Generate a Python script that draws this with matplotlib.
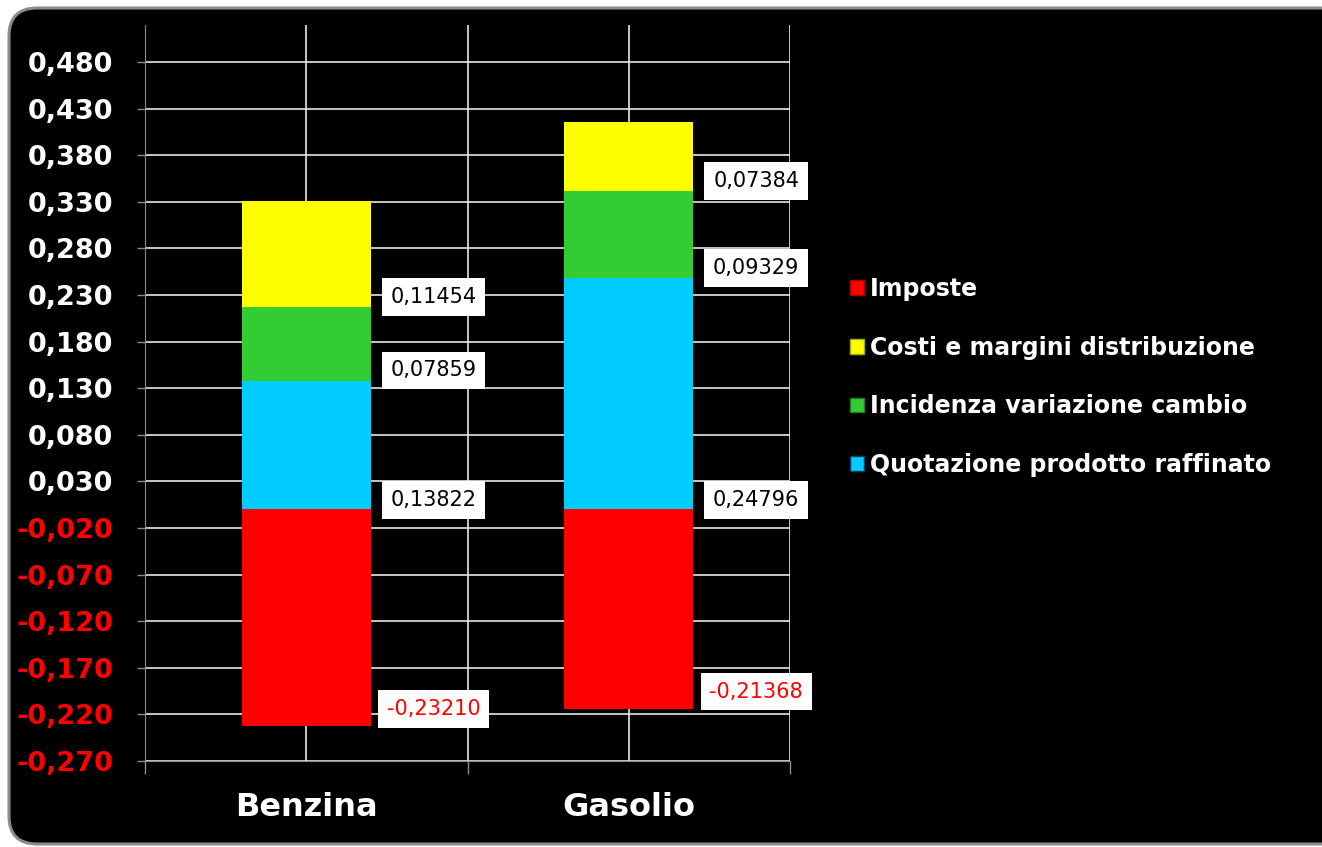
import matplotlib
matplotlib.use('Agg')
import matplotlib.pyplot as plt
from matplotlib.patches import FancyBboxPatch, Patch
from matplotlib.transforms import IdentityTransform
import numpy as np

categories = ['Benzina', 'Gasolio']
imposte = [-0.23210, -0.21368]
quotazione = [0.13822, 0.24796]
cambio = [0.07859, 0.09329]
costi = [0.11454, 0.07384]
ytick_values = [-0.270, -0.220, -0.170, -0.120, -0.070, -0.020, 0.030, 0.080,
                0.130, 0.180, 0.230, 0.280, 0.330, 0.380, 0.430, 0.480]
legend_labels = ['Imposte', 'Costi e margini distribuzione',
                 'Incidenza variazione cambio', 'Quotazione prodotto raffinato']

C_RED = '#FF0000'
C_YEL = '#FFFF00'
C_GRN = '#33CC33'
C_BLU = '#00CCFF'

W, H, DPI = 1322, 847, 100
fig = plt.figure(figsize=(W / DPI, H / DPI), dpi=DPI, facecolor='white')

# black rounded background panel
bg = FancyBboxPatch((9, 3), 1340, 836, boxstyle='round,pad=0,rounding_size=28',
                    transform=IdentityTransform(), facecolor='black',
                    edgecolor='#8c8c8c', linewidth=2.2, zorder=-5)
fig.patches.append(bg)

ax = fig.add_axes([145 / W, 1 - 761 / H, (790 - 145) / W, (761 - 25) / H])
ax.set_facecolor('none')
ax.set_zorder(2)

x = np.arange(len(categories))
bw = 0.4
ax.bar(x, imposte, bw, color=C_RED, zorder=3)
ax.bar(x, quotazione, bw, color=C_BLU, zorder=3)
b2 = np.array(quotazione)
ax.bar(x, cambio, bw, bottom=b2, color=C_GRN, zorder=3)
b3 = b2 + np.array(cambio)
ax.bar(x, costi, bw, bottom=b3, color=C_YEL, zorder=3)

ax.set_xlim(-0.5, 1.5)
ax.set_ylim(-0.27, 0.5197)

# value labels
def lab(i, y, v, color):
    ax.text(i + 0.395, y, f"{v:.5f}".replace('.', ','), ha='center', va='center',
            fontsize=15, color=color, zorder=5,
            bbox=dict(boxstyle='square,pad=0.42', facecolor='white', edgecolor='none'))

for i in range(len(categories)):
    lab(i, imposte[i] + 0.018, imposte[i], C_RED)
    lab(i, 0 + 0.010, quotazione[i], 'black')
    lab(i, b2[i] + 0.011, cambio[i], 'black')
    lab(i, b3[i] + 0.011, costi[i], 'black')

# y axis
ax.set_yticks(ytick_values)
ax.set_yticklabels([f"{v:.3f}".replace('.', ',') for v in ytick_values],
                   fontsize=19.5, fontweight='bold')
for t, v in zip(ax.get_yticklabels(), ytick_values):
    t.set_color(C_RED if v < 0 else 'white')
ax.tick_params(axis='y', length=6, width=1, color='#8c8c8c', pad=17)
ax.yaxis.grid(True, color='#e6e6e6', linewidth=1.2, zorder=1)

# x axis
ax.set_xticks(x)
ax.set_xticklabels(categories, fontsize=23, fontweight='bold', color='white')
ax.set_xticks([-0.5, 0.5, 1.5], minor=True)
ax.tick_params(axis='x', which='major', length=0, pad=22)
ax.tick_params(axis='x', which='minor', length=9, width=1, color='#8c8c8c')
ax.xaxis.grid(True, which='both', color='#e6e6e6', linewidth=1.2, zorder=1)
ax.set_axisbelow(True)

for s in ['top', 'right']:
    ax.spines[s].set_visible(False)
ax.spines['left'].set_color('#8c8c8c')
ax.spines['bottom'].set_color('#8c8c8c')

# legend
handles = [Patch(facecolor=C_RED, edgecolor='#aa0000'),
           Patch(facecolor=C_YEL, edgecolor='#aaaa00'),
           Patch(facecolor=C_GRN, edgecolor='#208020'),
           Patch(facecolor=C_BLU, edgecolor='#004060')]
leg = fig.legend(handles, legend_labels, loc='upper left',
                 bbox_to_anchor=(850 / W, 1 - 277 / H), frameon=False,
                 fontsize=17, handlelength=0.58, handleheight=0.58,
                 handletextpad=0.28, labelspacing=1.47, borderpad=0, borderaxespad=0)
for t in leg.get_texts():
    t.set_color('white')
    t.set_fontweight('bold')

fig.savefig('out.png', dpi=DPI, facecolor='white')
